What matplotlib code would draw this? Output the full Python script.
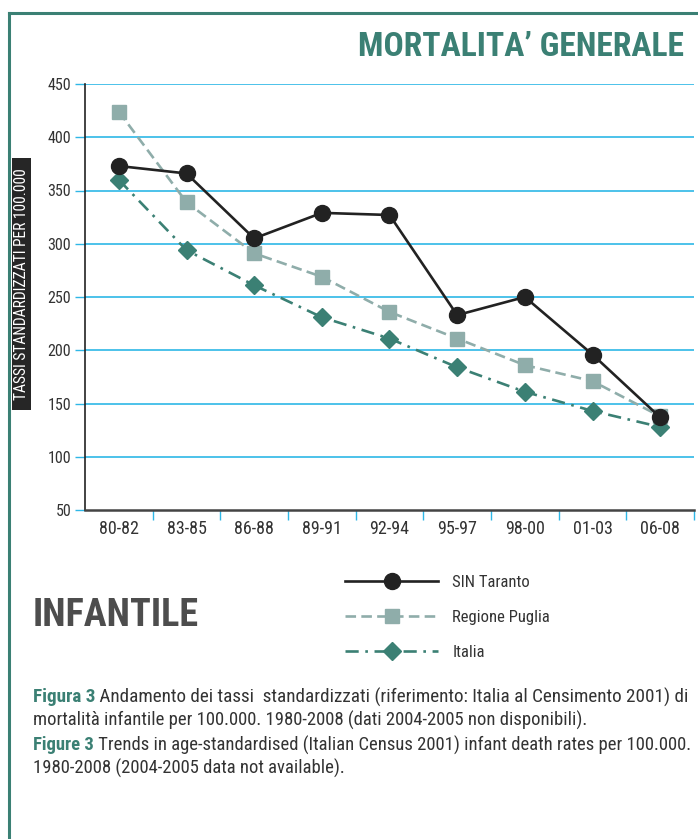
import matplotlib

matplotlib.use("Agg")
import matplotlib.pyplot as plt
from matplotlib.lines import Line2D
from matplotlib.patches import Rectangle

# data
periods = ["80-82", "83-85", "86-88", "89-91", "92-94", "95-97", "98-00", "01-03", "06-08"]
sin_taranto = [373, 366, 305, 329, 327, 233, 250, 196, 137]
regione_puglia = [424, 339, 291, 269, 236, 211, 186, 171, 138]
italia = [360, 294, 261, 231, 211, 184, 161, 143, 128]
y_ticks = [50, 100, 150, 200, 250, 300, 350, 400, 450]

TEAL = "#3b8074"
GREY_GREEN = "#8fadaa"
DARK = "#222222"
GRID_BLUE = "#2eb7e6"
TEXT = "#333333"
FONT = ["Roboto Condensed", "Liberation Sans Narrow", "Lato", "DejaVu Sans"]

plt.rcParams["font.family"] = FONT

W, H = 698, 839
fig = plt.figure(figsize=(W / 100, H / 100), dpi=100)
renderer = fig.canvas.get_renderer()


def fx(px):
	return px / W


def fy(py):
	return 1 - py / H


def fit_width(texts, target_px):
	# scale the font size of a group of texts so their summed width matches the reference
	width = sum(t.get_window_extent(renderer).width for t in texts)
	for t in texts:
		t.set_fontsize(t.get_fontsize() * target_px / width)


# frame
fig.add_artist(Line2D([fx(9), fx(698)], [fy(13), fy(13)], color=TEAL, lw=2.2))
fig.add_artist(Line2D([fx(9), fx(9)], [fy(13), fy(839)], color=TEAL, lw=2.2))

ax = fig.add_axes([fx(85), fy(510), fx(694) - fx(85), fy(84) - fy(510)])
x = list(range(len(periods)))

ax.plot(x, sin_taranto, color=DARK, lw=1.9, marker="o", markersize=11.5,
	label="SIN Taranto", zorder=5)
ax.plot(x, regione_puglia, color=GREY_GREEN, lw=1.9, marker="s", markersize=10,
	dashes=(4, 2), label="Regione Puglia", zorder=4)
ax.plot(x, italia, color=TEAL, lw=1.9, marker="D", markersize=9,
	dashes=(5, 2.5, 1, 2.5), label="Italia", zorder=3)

ax.set_xlim(-0.5, len(periods) - 0.5)
ax.set_ylim(50, 450)
ax.set_yticks(y_ticks)
ax.set_yticklabels([str(v) for v in y_ticks], fontsize=11.5, color=TEXT)
ax.set_xticks(x)
ax.set_xticklabels(periods, fontsize=13, color=TEXT)
ax.set_xticks([i + 0.5 for i in x], minor=True)
ax.tick_params(axis="x", which="major", length=0, pad=7)
ax.tick_params(axis="x", which="minor", length=7, width=1, color=GRID_BLUE)
ax.tick_params(axis="y", length=7, width=1, color=GRID_BLUE, pad=3)
ax.yaxis.get_major_ticks()[0].tick1line.set_color(DARK)

for v in y_ticks[1:]:
	ax.axhline(v, color=GRID_BLUE, lw=1.2, zorder=1)

for side in ("top", "right"):
	ax.spines[side].set_visible(False)
ax.spines["left"].set_color(DARK)
ax.spines["left"].set_linewidth(1.2)
ax.spines["bottom"].set_color("#444444")
ax.spines["bottom"].set_linewidth(1.8)

# title and side labels
title = fig.text(fx(684), fy(47), "MORTALITA’ GENERALE", ha="right", va="center",
	fontsize=22, fontweight="bold", color=TEAL)
fit_width([title], 326)
infantile = fig.text(fx(33), fy(615), "INFANTILE", ha="left", va="center",
	fontsize=28, fontweight="bold", color="#4d4d4d")
fit_width([infantile], 167)

fig.add_artist(Rectangle((fx(12), fy(410)), fx(31) - fx(12), fy(158) - fy(410),
	transform=fig.transFigure, facecolor="#262626", edgecolor="none"))
ylab = fig.text(fx(22), fy(284), "TASSI STANDARDIZZATI PER 100.000", rotation=90,
	ha="center", va="center", fontsize=7.5, color="white")
ylab_h = ylab.get_window_extent(renderer).height
ylab.set_fontsize(ylab.get_fontsize() * 232 / ylab_h)

ax.legend(loc="upper left", bbox_to_anchor=(fx(345), fy(575)),
	bbox_transform=fig.transFigure, frameon=False, fontsize=12,
	handlelength=5.6, handletextpad=0.85, labelspacing=1.2,
	borderpad=0, borderaxespad=0, labelcolor=TEXT)

# caption with bold lead-in
caption = [
	("Figura 3", " Andamento dei tassi  standardizzati (riferimento: Italia al Censimento 2001) di", 655),
	("", "mortalità infantile per 100.000. 1980-2008 (dati 2004-2005 non disponibili).", 0),
	("Figure 3", " Trends in age-standardised (Italian Census 2001) infant death rates per 100.000.", 655),
	("", "1980-2008 (2004-2005 data not available).", 0),
]
line_y = [697, 720, 745, 768]
caption_size = None
plain_lines = []
for (lead, rest, target), py in zip(caption, line_y):
	if lead:
		bold = fig.text(fx(33), fy(py), lead, ha="left", va="center",
			fontsize=12, fontweight="bold", color=TEAL)
		body = fig.text(fx(33), fy(py), rest, ha="left", va="center",
			fontsize=12, color=TEXT)
		fit_width([bold, body], target)
		caption_size = body.get_fontsize() if caption_size is None else min(caption_size, body.get_fontsize())
		bw = bold.get_window_extent(renderer).width
		body.set_x(fx(33 + bw))
	else:
		plain_lines.append(fig.text(fx(33), fy(py), rest, ha="left", va="center",
			fontsize=12, color=TEXT))
for t in plain_lines:
	t.set_fontsize(caption_size)

fig.savefig("out.png", dpi=100)
plt.close(fig)
